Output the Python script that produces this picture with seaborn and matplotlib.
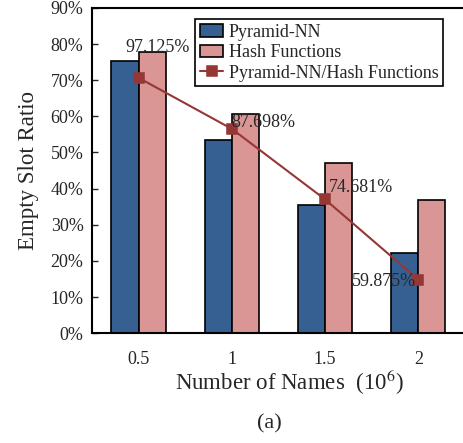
import matplotlib
matplotlib.use("Agg")
import matplotlib.pyplot as plt
from matplotlib.ticker import PercentFormatter
import seaborn as sns
import pandas as pd

# values
sizes = ["0.5", "1", "1.5", "2"]
pyramid_nn = [75.4, 53.4, 35.5, 22.1]
hash_functions = [77.7, 60.7, 47.2, 36.8]
ratio = [97.125, 87.698, 74.681, 59.875]
ratio_labels = ["97.125%", "87.698%", "74.681%", "59.875%"]

blue = "#376092"
pink = "#D99694"
red = "#953735"

sns.set_style("white")
plt.rcParams["font.family"] = ["Liberation Serif", "DejaVu Serif"]
plt.rcParams["mathtext.fontset"] = "stix"

df = pd.DataFrame({
    "size": sizes * 2,
    "value": pyramid_nn + hash_functions,
    "method": ["Pyramid-NN"] * 4 + ["Hash Functions"] * 4,
})

fig = plt.figure(figsize=(4.64, 4.43), dpi=100)
ax = fig.add_axes([0.198, 0.248, 0.804, 0.734])

sns.barplot(data=df, x="size", y="value", hue="method", palette=[blue, pink],
            saturation=1, width=0.58, edgecolor="black", linewidth=1.2,
            ax=ax, legend=True)
ax.set_ylim(0, 90)
ax.set_yticks(range(0, 91, 10))
ax.yaxis.set_major_formatter(PercentFormatter(100, decimals=0))
ax.tick_params(axis="y", direction="in", length=4.5, width=1, labelsize=13, pad=6)
ax.tick_params(axis="x", length=0, labelsize=13, pad=13)
ax.set_xlabel(r"Number of Names  (10$^{6}$)", fontsize=16.5)
ax.xaxis.set_label_coords(0.53, -0.105)
ax.set_ylabel("Empty Slot Ratio", fontsize=16.5, labelpad=8)
for s in ["left", "bottom", "top"]:
    ax.spines[s].set_color("black")
    ax.spines[s].set_linewidth(1.5)
ax.spines["right"].set_visible(False)

# ratio line on a hidden secondary scale
ax2 = ax.twinx()
sns.pointplot(x=sizes, y=ratio, ax=ax2, color=red, markers="s",
              markersize=7, linewidth=1.5, errorbar=None)
ax2.set_ylim(50, 110)
ax2.set_yticks([])
ax2.set_ylabel("")
for s in ax2.spines.values():
    s.set_visible(False)

offsets = [((19, 26), "center", "baseline"),
           ((0, 6), "left", "center"),
           ((4, 12), "left", "center"),
           ((-2, -2), "right", "center")]
for i, (lab, (off, ha, va)) in enumerate(zip(ratio_labels, offsets)):
    ax2.annotate(lab, xy=(i, ratio[i]), xytext=off, textcoords="offset pixels",
                 ha=ha, va=va, fontsize=13)

handles, labels = ax.get_legend_handles_labels()
ax.get_legend().remove()
line_handle = ax2.lines[0]
leg = ax2.legend(handles + [line_handle],
                 labels + ["Pyramid-NN/Hash Functions"],
                 loc="upper right", bbox_to_anchor=(0.941, 0.966),
                 borderaxespad=0, fontsize=13, frameon=True, fancybox=False,
                 framealpha=1, edgecolor="black", handlelength=1.3,
                 handletextpad=0.3, labelspacing=0.2, borderpad=0.25)
leg.get_frame().set_linewidth(1.2)

fig.text(0.58, 0.043, "(a)", ha="center", va="center", fontsize=16)

fig.savefig("out.png", dpi=100)
